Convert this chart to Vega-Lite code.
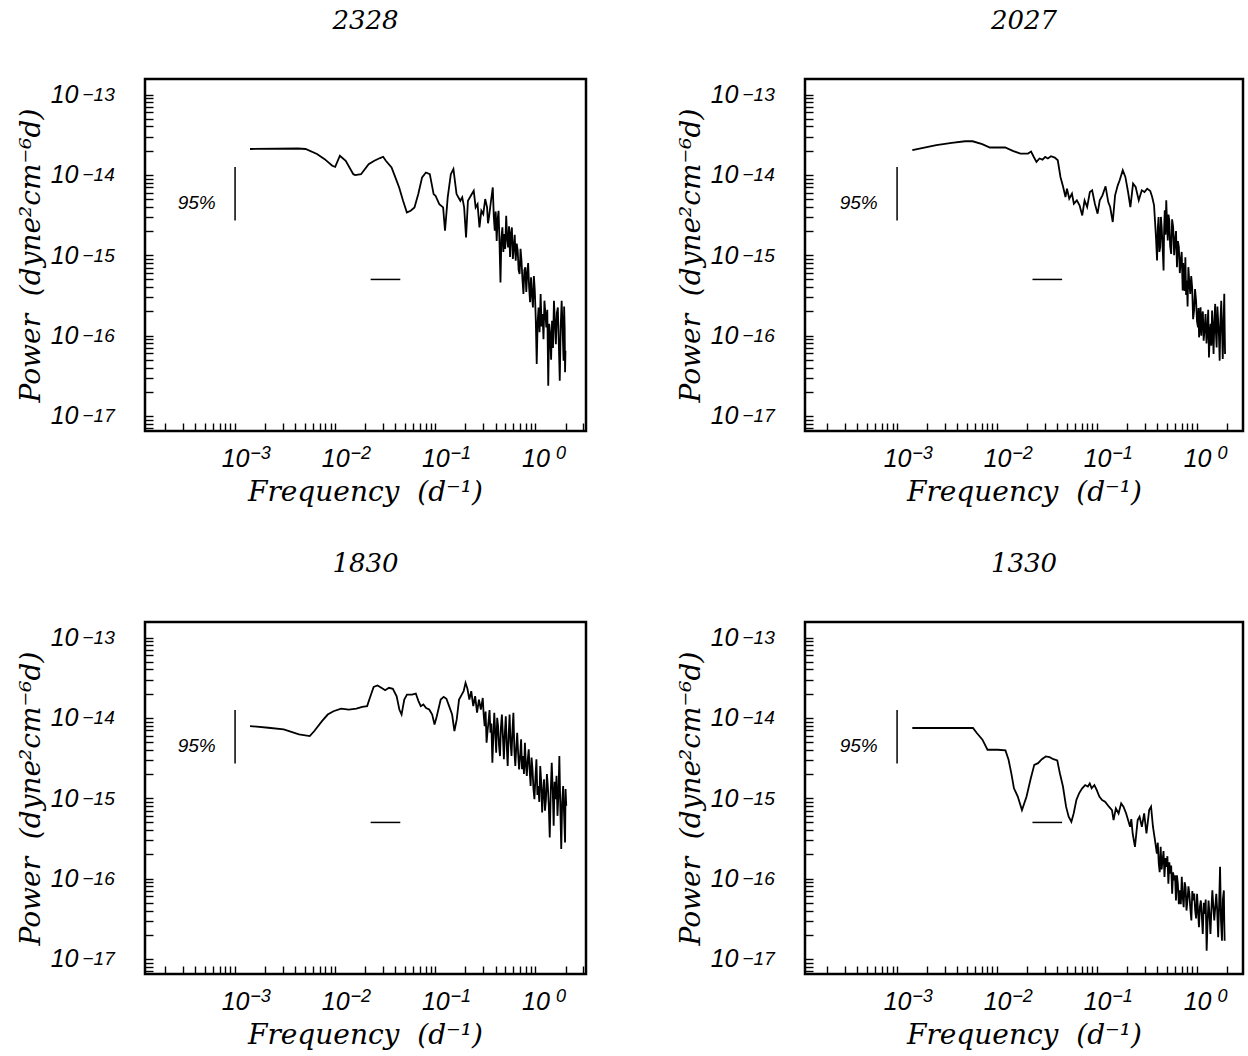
{
"$schema": "https://vega.github.io/schema/vega-lite/v6.json",
"padding": {"left": 15, "top": 6, "right": 0, "bottom": 0},
"background": "white",
"datasets": {
"ci": [{"f": 0.001, "P": 1.25e-14, "P2": 2.7e-15}],
"bw": [{"f": 0.0226, "f2": 0.0447, "P": 5e-16}],
"lbl": [{"f": 0.00064, "P": 4.5e-15, "text": "95%"}],
"s2328": [
{"f":0.00141,"P":2.10e-14},{"f":0.00424,"P":2.13e-14},{"f":0.00506,"P":2.10e-14},{"f":0.00658,"P":1.82e-14},{"f":0.00785,"P":1.57e-14},{"f":0.00935,"P":1.30e-14},{"f":0.0100,"P":1.26e-14},{"f":0.01114,"P":1.73e-14},{"f":0.01274,"P":1.50e-14},{"f":0.01517,"P":1.02e-14},{"f":0.01585,"P":9.95e-15},{"f":0.01811,"P":1.02e-14},{"f":0.02158,"P":1.36e-14},{"f":0.0246,"P":1.50e-14},{"f":0.02805,"P":1.62e-14},{"f":0.03013,"P":1.68e-14},{"f":0.03207,"P":1.50e-14},{"f":0.03656,"P":1.24e-14},{"f":0.0399,"P":9.31e-15},{"f":0.04355,"P":6.98e-15},{"f":0.04764,"P":4.76e-15},{"f":0.052,"P":3.41e-15},{"f":0.05675,"P":3.58e-15},{"f":0.06194,"P":3.94e-15},{"f":0.0676,"P":5.77e-15},{"f":0.07379,"P":9.31e-15},{"f":0.08054,"P":1.07e-14},{"f":0.0881,"P":1.02e-14},{"f":0.0962,"P":5.77e-15},{"f":0.1005,"P":5.50e-15},{"f":0.1096,"P":4.33e-15},{"f":0.1197,"P":3.94e-15},{"f":0.125,"P":2.02e-15},{"f":0.133,"P":5.25e-15},{"f":0.1429,"P":1.02e-14},{"f":0.1517,"P":1.18e-14},{"f":0.163,"P":5.77e-15},{"f":0.1778,"P":4.76e-15},{"f":0.1858,"P":5.25e-15},{"f":0.1941,"P":3.94e-15},{"f":0.2028,"P":1.67e-15},{"f":0.2118,"P":4.76e-15},{"f":0.2317,"P":5.77e-15},{"f":0.2421,"P":6.35e-15},{"f":0.2529,"P":3.94e-15},{"f":0.2642,"P":4.33e-15},{"f":0.2761,"P":2.22e-15},{"f":0.2884,"P":3.58e-15},{"f":0.3013,"P":3.25e-15},{"f":0.315,"P":5.0e-15},{"f":0.3289,"P":3.94e-15},{"f":0.336,"P":2.5e-15},{"f":0.3436,"P":2.96e-15},{"f":0.358,"P":4.5e-15},{"f":0.375,"P":6.98e-15},{"f":0.384,"P":3.0e-15},{"f":0.3926,"P":2.02e-15},{"f":0.401,"P":3.5e-15},{"f":0.4102,"P":1.51e-15},{"f":0.419,"P":2.8e-15},{"f":0.4285,"P":3.58e-15},{"f":0.438,"P":1.4e-15},{"f":0.4477,"P":4.59e-16},{"f":0.457,"P":1.6e-15},{"f":0.4677,"P":2.22e-15},{"f":0.478,"P":1.1e-15},{"f":0.4887,"P":1.83e-15},{"f":0.499,"P":1.2e-15},{"f":0.5105,"P":3.10e-15},{"f":0.522,"P":1.6e-15},{"f":0.5333,"P":1.25e-15},{"f":0.545,"P":2.3e-15},{"f":0.558,"P":9.5e-16},{"f":0.57,"P":1.9e-15},{"f":0.5821,"P":2.22e-15},{"f":0.595,"P":9.0e-16},{"f":0.6081,"P":1.25e-15},{"f":0.621,"P":1.8e-15},{"f":0.6353,"P":8.55e-16},{"f":0.65,"P":1.4e-15},{"f":0.665,"P":1.14e-15},{"f":0.68,"P":6.5e-16},{"f":0.695,"P":5.83e-16},{"f":0.71,"P":1.2e-15},{"f":0.726,"P":8.55e-16},{"f":0.742,"P":5.0e-16},{"f":0.759,"P":3.29e-16},{"f":0.776,"P":6.5e-16},{"f":0.793,"P":7.06e-16},{"f":0.81,"P":3.5e-16},{"f":0.828,"P":5.83e-16},{"f":0.846,"P":8.0e-16},{"f":0.865,"P":3.98e-16},{"f":0.884,"P":2.6e-16},{"f":0.904,"P":5.30e-16},{"f":0.924,"P":3.2e-16},{"f":0.944,"P":2.24e-16},{"f":0.965,"P":5.5e-16},{"f":0.986,"P":3.61e-16},{"f":1.008,"P":1.6e-16},{"f":1.03,"P":4.42e-17},{"f":1.053,"P":1.5e-16},{"f":1.076,"P":2.24e-16},{"f":1.1,"P":1.1e-16},{"f":1.127,"P":3.29e-16},{"f":1.152,"P":1.3e-16},{"f":1.178,"P":1.85e-16},{"f":1.204,"P":9.0e-17},{"f":1.23,"P":2.72e-16},{"f":1.257,"P":1.9e-16},{"f":1.285,"P":1.26e-16},{"f":1.314,"P":2.1e-16},{"f":1.343,"P":2.37e-17},{"f":1.373,"P":1.4e-16},{"f":1.403,"P":1.04e-16},{"f":1.434,"P":5.0e-17},{"f":1.466,"P":1.53e-16},{"f":1.498,"P":7.0e-17},{"f":1.531,"P":2.72e-16},{"f":1.565,"P":1.5e-16},{"f":1.6,"P":7.84e-17},{"f":1.637,"P":1.9e-16},{"f":1.674,"P":2.24e-16},{"f":1.712,"P":8.0e-17},{"f":1.75,"P":2.74e-17},{"f":1.789,"P":1.3e-16},{"f":1.828,"P":2.72e-16},{"f":1.869,"P":1.2e-16},{"f":1.91,"P":4.86e-17},{"f":1.935,"P":2.3e-16},{"f":1.959,"P":1.26e-16},{"f":1.977,"P":3.5e-17},{"f":1.995,"P":6.48e-17}
],
"s2027": [
{"f":0.00142,"P":2.03e-14},{"f":0.00247,"P":2.34e-14},{"f":0.00352,"P":2.50e-14},{"f":0.00479,"P":2.62e-14},{"f":0.0057,"P":2.62e-14},{"f":0.0071,"P":2.41e-14},{"f":0.00847,"P":2.19e-14},{"f":0.01009,"P":2.19e-14},{"f":0.01205,"P":2.19e-14},{"f":0.01436,"P":1.99e-14},{"f":0.0171,"P":1.84e-14},{"f":0.0204,"P":1.84e-14},{"f":0.02188,"P":1.95e-14},{"f":0.0233,"P":1.67e-14},{"f":0.02477,"P":1.45e-14},{"f":0.02655,"P":1.60e-14},{"f":0.0285,"P":1.55e-14},{"f":0.03027,"P":1.67e-14},{"f":0.0322,"P":1.60e-14},{"f":0.0346,"P":1.71e-14},{"f":0.03776,"P":1.64e-14},{"f":0.04046,"P":1.52e-14},{"f":0.04305,"P":9.42e-15},{"f":0.0458,"P":7.07e-15},{"f":0.0483,"P":5.31e-15},{"f":0.05,"P":6.74e-15},{"f":0.05272,"P":5.06e-15},{"f":0.0561,"P":5.84e-15},{"f":0.0586,"P":4.38e-15},{"f":0.0628,"P":4.82e-15},{"f":0.0668,"P":4.18e-15},{"f":0.0711,"P":3.13e-15},{"f":0.075,"P":4.82e-15},{"f":0.0796,"P":3.98e-15},{"f":0.0847,"P":6.12e-15},{"f":0.0893,"P":6.42e-15},{"f":0.0951,"P":4.38e-15},{"f":0.1012,"P":3.29e-15},{"f":0.1064,"P":4.82e-15},{"f":0.1132,"P":5.57e-15},{"f":0.1216,"P":7.21e-15},{"f":0.1294,"P":4.59e-15},{"f":0.1352,"P":3.98e-15},{"f":0.1435,"P":2.59e-15},{"f":0.1514,"P":5.57e-15},{"f":0.161,"P":7.41e-15},{"f":0.1683,"P":8.57e-15},{"f":0.1807,"P":1.14e-14},{"f":0.1919,"P":9.42e-15},{"f":0.2042,"P":6.12e-15},{"f":0.2153,"P":3.98e-15},{"f":0.2291,"P":7.78e-15},{"f":0.2432,"P":7.07e-15},{"f":0.2612,"P":4.82e-15},{"f":0.2799,"P":6.42e-15},{"f":0.2979,"P":6.12e-15},{"f":0.317,"P":6.74e-15},{"f":0.3404,"P":6.30e-15},{"f":0.3557,"P":5.31e-15},{"f":0.3715,"P":4.18e-15},{"f":0.3882,"P":1.68e-15},{"f":0.3981,"P":8.61e-16},{"f":0.405,"P":2.2e-15},{"f":0.4121,"P":2.99e-15},{"f":0.42,"P":1.1e-15},{"f":0.4276,"P":1.26e-15},{"f":0.435,"P":3.0e-15},{"f":0.4426,"P":2.24e-15},{"f":0.452,"P":1.3e-15},{"f":0.4624,"P":6.46e-16},{"f":0.468,"P":2.0e-15},{"f":0.4753,"P":3.62e-15},{"f":0.483,"P":1.8e-15},{"f":0.492,"P":4.82e-15},{"f":0.5,"P":2.6e-15},{"f":0.5093,"P":1.53e-15},{"f":0.518,"P":3.2e-15},{"f":0.5272,"P":2.72e-15},{"f":0.538,"P":1.3e-15},{"f":0.5508,"P":1.04e-15},{"f":0.563,"P":2.8e-15},{"f":0.5768,"P":2.24e-15},{"f":0.59,"P":1.0e-15},{"f":0.6026,"P":1.53e-15},{"f":0.616,"P":2.0e-15},{"f":0.6295,"P":7.11e-16},{"f":0.643,"P":1.5e-15},{"f":0.6577,"P":1.26e-15},{"f":0.672,"P":6.0e-16},{"f":0.6871,"P":8.61e-16},{"f":0.702,"P":1.1e-15},{"f":0.7178,"P":3.64e-16},{"f":0.727,"P":8.0e-16},{"f":0.7362,"P":5.87e-16},{"f":0.75,"P":3.6e-16},{"f":0.7638,"P":9.46e-16},{"f":0.777,"P":3.2e-16},{"f":0.7907,"P":4.85e-16},{"f":0.804,"P":2.3e-16},{"f":0.8185,"P":7.11e-16},{"f":0.837,"P":4.5e-16},{"f":0.8551,"P":3.31e-16},{"f":0.874,"P":5.5e-16},{"f":0.8933,"P":4.00e-16},{"f":0.913,"P":1.6e-16},{"f":0.9333,"P":2.05e-16},{"f":0.955,"P":3.8e-16},{"f":0.9772,"P":2.72e-16},{"f":0.999,"P":1.5e-16},{"f":1.021,"P":1.27e-16},{"f":1.034,"P":2.2e-16},{"f":1.047,"P":9.51e-17},{"f":1.065,"P":1.3e-16},{"f":1.084,"P":2.25e-16},{"f":1.103,"P":1.0e-16},{"f":1.122,"P":1.69e-16},{"f":1.143,"P":2.0e-16},{"f":1.164,"P":8.65e-17},{"f":1.19,"P":1.2e-16},{"f":1.216,"P":1.86e-16},{"f":1.243,"P":8.0e-17},{"f":1.271,"P":1.27e-16},{"f":1.293,"P":2.1e-16},{"f":1.315,"P":5.36e-17},{"f":1.34,"P":1.0e-16},{"f":1.365,"P":1.40e-16},{"f":1.389,"P":7.5e-17},{"f":1.413,"P":2.05e-16},{"f":1.437,"P":1.2e-16},{"f":1.462,"P":5.89e-17},{"f":1.49,"P":1.5e-16},{"f":1.517,"P":2.48e-16},{"f":1.543,"P":1.1e-16},{"f":1.57,"P":7.13e-17},{"f":1.598,"P":2.3e-16},{"f":1.626,"P":1.53e-16},{"f":1.655,"P":1.0e-16},{"f":1.683,"P":4.88e-17},{"f":1.715,"P":1.6e-16},{"f":1.746,"P":2.72e-16},{"f":1.777,"P":1.2e-16},{"f":1.807,"P":5.12e-17},{"f":1.84,"P":1.4e-16},{"f":1.871,"P":3.31e-16},{"f":1.888,"P":1.3e-16},{"f":1.905,"P":5.89e-17}
],
"s1830": [
{"f":0.00141,"P":7.91e-15},{"f":0.00215,"P":7.54e-15},{"f":0.00306,"P":7.18e-15},{"f":0.00435,"P":6.22e-15},{"f":0.00557,"P":5.94e-15},{"f":0.00619,"P":6.86e-15},{"f":0.00738,"P":9.12e-15},{"f":0.00842,"P":1.10e-14},{"f":0.00961,"P":1.21e-14},{"f":0.01146,"P":1.30e-14},{"f":0.01368,"P":1.27e-14},{"f":0.0163,"P":1.30e-14},{"f":0.01862,"P":1.37e-14},{"f":0.02085,"P":1.40e-14},{"f":0.02218,"P":1.77e-14},{"f":0.02421,"P":2.43e-14},{"f":0.02648,"P":2.53e-14},{"f":0.02891,"P":2.37e-14},{"f":0.03155,"P":2.21e-14},{"f":0.03445,"P":2.37e-14},{"f":0.03767,"P":2.30e-14},{"f":0.04111,"P":1.86e-14},{"f":0.04375,"P":1.27e-14},{"f":0.04603,"P":1.10e-14},{"f":0.04898,"P":1.69e-14},{"f":0.05212,"P":1.95e-14},{"f":0.05848,"P":1.95e-14},{"f":0.06383,"P":2.01e-14},{"f":0.06792,"P":1.62e-14},{"f":0.07161,"P":1.40e-14},{"f":0.07603,"P":1.47e-14},{"f":0.0809,"P":1.33e-14},{"f":0.0869,"P":1.27e-14},{"f":0.0931,"P":1.10e-14},{"f":0.0982,"P":8.28e-15},{"f":0.1035,"P":1.05e-14},{"f":0.1132,"P":1.69e-14},{"f":0.1213,"P":1.83e-14},{"f":0.1291,"P":1.73e-14},{"f":0.1374,"P":1.40e-14},{"f":0.1472,"P":1.10e-14},{"f":0.1552,"P":6.86e-15},{"f":0.1637,"P":9.57e-15},{"f":0.1726,"P":1.69e-14},{"f":0.1837,"P":1.95e-14},{"f":0.1919,"P":2.15e-14},{"f":0.2004,"P":2.73e-14},{"f":0.2094,"P":2.30e-14},{"f":0.2188,"P":1.69e-14},{"f":0.2286,"P":2.15e-14},{"f":0.2393,"P":1.40e-14},{"f":0.25,"P":1.86e-14},{"f":0.2612,"P":1.16e-14},{"f":0.2729,"P":1.69e-14},{"f":0.2851,"P":1.27e-14},{"f":0.2979,"P":1.77e-14},{"f":0.304,"P":1.1e-14},{"f":0.3112,"P":7.91e-15},{"f":0.318,"P":1.2e-14},{"f":0.3251,"P":4.91e-15},{"f":0.333,"P":7.0e-15},{"f":0.3404,"P":9.12e-15},{"f":0.348,"P":1.25e-14},{"f":0.3556,"P":6.53e-15},{"f":0.363,"P":8.5e-15},{"f":0.3715,"P":2.77e-15},{"f":0.38,"P":6.0e-15},{"f":0.3882,"P":1.16e-14},{"f":0.397,"P":6.5e-15},{"f":0.4055,"P":3.69e-15},{"f":0.415,"P":1.0e-14},{"f":0.4236,"P":7.91e-15},{"f":0.433,"P":4.5e-15},{"f":0.4426,"P":3.35e-15},{"f":0.452,"P":7.5e-15},{"f":0.4624,"P":1.10e-14},{"f":0.473,"P":6.0e-15},{"f":0.4842,"P":3.05e-15},{"f":0.495,"P":6.5e-15},{"f":0.5058,"P":1.05e-14},{"f":0.517,"P":4.5e-15},{"f":0.5284,"P":2.52e-15},{"f":0.54,"P":6.0e-15},{"f":0.5521,"P":1.10e-14},{"f":0.564,"P":5.0e-15},{"f":0.5768,"P":3.35e-15},{"f":0.59,"P":7.0e-15},{"f":0.6026,"P":1.16e-14},{"f":0.616,"P":4.0e-15},{"f":0.6295,"P":2.52e-15},{"f":0.643,"P":4.2e-15},{"f":0.6577,"P":6.53e-15},{"f":0.672,"P":3.6e-15},{"f":0.6871,"P":2.29e-15},{"f":0.703,"P":3.3e-15},{"f":0.7194,"P":5.40e-15},{"f":0.735,"P":2.3e-15},{"f":0.7516,"P":3.35e-15},{"f":0.768,"P":2.0e-15},{"f":0.7852,"P":4.91e-15},{"f":0.803,"P":2.6e-15},{"f":0.8204,"P":1.89e-15},{"f":0.838,"P":3.0e-15},{"f":0.857,"P":4.06e-15},{"f":0.876,"P":2.2e-15},{"f":0.8954,"P":1.42e-15},{"f":0.915,"P":3.2e-15},{"f":0.9354,"P":2.29e-15},{"f":0.956,"P":1.3e-15},{"f":0.9772,"P":9.71e-16},{"f":1.0,"P":1.8e-15},{"f":1.023,"P":3.05e-15},{"f":1.046,"P":1.1e-15},{"f":1.069,"P":1.42e-15},{"f":1.093,"P":9.0e-16},{"f":1.117,"P":2.52e-15},{"f":1.142,"P":1.6e-15},{"f":1.167,"P":6.64e-16},{"f":1.193,"P":1.2e-15},{"f":1.219,"P":1.72e-15},{"f":1.246,"P":7.0e-16},{"f":1.274,"P":9.71e-16},{"f":1.302,"P":2.0e-15},{"f":1.33,"P":1.42e-15},{"f":1.36,"P":8.0e-16},{"f":1.39,"P":3.25e-16},{"f":1.422,"P":1.2e-15},{"f":1.455,"P":2.77e-15},{"f":1.488,"P":1.3e-15},{"f":1.521,"P":4.54e-16},{"f":1.555,"P":1.6e-15},{"f":1.589,"P":9.71e-16},{"f":1.624,"P":1.9e-15},{"f":1.66,"P":6.04e-16},{"f":1.697,"P":1.1e-15},{"f":1.734,"P":3.35e-15},{"f":1.772,"P":8.0e-16},{"f":1.811,"P":2.33e-16},{"f":1.85,"P":9.0e-16},{"f":1.892,"P":1.42e-15},{"f":1.935,"P":6.0e-16},{"f":1.977,"P":2.82e-16},{"f":2.0,"P":1.3e-15},{"f":2.032,"P":8.04e-16}
],
"s1330": [
{"f":0.00142,"P":7.48e-15},{"f":0.00574,"P":7.48e-15},{"f":0.00627,"P":6.48e-15},{"f":0.00714,"P":5.35e-15},{"f":0.00802,"P":4.01e-15},{"f":0.00891,"P":4.01e-15},{"f":0.01018,"P":4.01e-15},{"f":0.01213,"P":3.94e-15},{"f":0.01303,"P":3.01e-15},{"f":0.01387,"P":2.05e-15},{"f":0.01475,"P":1.33e-15},{"f":0.01611,"P":1.05e-15},{"f":0.01774,"P":7.13e-16},{"f":0.01972,"P":1.05e-15},{"f":0.02153,"P":1.69e-15},{"f":0.02355,"P":2.60e-15},{"f":0.0257,"P":2.73e-15},{"f":0.02805,"P":3.06e-15},{"f":0.03069,"P":3.31e-15},{"f":0.0335,"P":3.24e-15},{"f":0.03656,"P":3.06e-15},{"f":0.04,"P":2.95e-15},{"f":0.04246,"P":2.05e-15},{"f":0.0456,"P":1.40e-15},{"f":0.04898,"P":7.85e-16},{"f":0.052,"P":5.89e-16},{"f":0.05534,"P":5.10e-16},{"f":0.05834,"P":6.47e-16},{"f":0.06209,"P":9.50e-16},{"f":0.06607,"P":1.15e-15},{"f":0.07096,"P":1.33e-15},{"f":0.07603,"P":1.46e-15},{"f":0.0809,"P":1.40e-15},{"f":0.08453,"P":1.53e-15},{"f":0.0883,"P":1.33e-15},{"f":0.094,"P":1.46e-15},{"f":0.0991,"P":1.27e-15},{"f":0.1054,"P":1.05e-15},{"f":0.1122,"P":9.50e-16},{"f":0.1202,"P":9.06e-16},{"f":0.1315,"P":7.85e-16},{"f":0.1409,"P":7.13e-16},{"f":0.1462,"P":5.35e-16},{"f":0.1542,"P":7.48e-16},{"f":0.1641,"P":6.47e-16},{"f":0.1742,"P":8.63e-16},{"f":0.1837,"P":7.85e-16},{"f":0.1954,"P":6.47e-16},{"f":0.2042,"P":5.35e-16},{"f":0.2138,"P":4.42e-16},{"f":0.22,"P":5.5e-16},{"f":0.227,"P":3.64e-16},{"f":0.2393,"P":2.48e-16},{"f":0.2547,"P":5.35e-16},{"f":0.2661,"P":5.89e-16},{"f":0.2805,"P":4.42e-16},{"f":0.2958,"P":6.47e-16},{"f":0.3119,"P":3.64e-16},{"f":0.3319,"P":7.13e-16},{"f":0.3467,"P":7.85e-16},{"f":0.3622,"P":4.42e-16},{"f":0.3793,"P":3.01e-16},{"f":0.3963,"P":2.05e-16},{"f":0.405,"P":2.8e-16},{"f":0.414,"P":1.53e-16},{"f":0.423,"P":1.2e-16},{"f":0.4325,"P":2.48e-16},{"f":0.442,"P":1.3e-16},{"f":0.4519,"P":1.69e-16},{"f":0.462,"P":2.2e-16},{"f":0.4721,"P":1.05e-16},{"f":0.483,"P":1.8e-16},{"f":0.4932,"P":1.40e-16},{"f":0.505,"P":1.9e-16},{"f":0.5164,"P":8.63e-17},{"f":0.528,"P":1.6e-16},{"f":0.5395,"P":1.15e-16},{"f":0.551,"P":1.45e-16},{"f":0.5636,"P":6.47e-17},{"f":0.576,"P":1.2e-16},{"f":0.5888,"P":9.50e-17},{"f":0.602,"P":1.1e-16},{"f":0.6152,"P":5.35e-17},{"f":0.629,"P":1.1e-16},{"f":0.6427,"P":8.63e-17},{"f":0.657,"P":4.8e-17},{"f":0.673,"P":7.13e-17},{"f":0.688,"P":4.8e-17},{"f":0.7031,"P":1.05e-16},{"f":0.718,"P":6.0e-17},{"f":0.7345,"P":4.42e-17},{"f":0.751,"P":9.0e-17},{"f":0.7674,"P":7.85e-17},{"f":0.784,"P":4.0e-17},{"f":0.8017,"P":5.35e-17},{"f":0.82,"P":8.0e-17},{"f":0.8375,"P":6.47e-17},{"f":0.857,"P":4.2e-17},{"f":0.877,"P":3.01e-17},{"f":0.896,"P":7.0e-17},{"f":0.9162,"P":5.35e-17},{"f":0.937,"P":6.5e-17},{"f":0.9572,"P":4.01e-17},{"f":0.978,"P":3.2e-17},{"f":1.0,"P":6.47e-17},{"f":1.022,"P":4.0e-17},{"f":1.045,"P":2.48e-17},{"f":1.068,"P":4.5e-17},{"f":1.091,"P":5.35e-17},{"f":1.115,"P":3.5e-17},{"f":1.14,"P":2.05e-17},{"f":1.167,"P":5.0e-17},{"f":1.194,"P":3.64e-17},{"f":1.22,"P":5.5e-17},{"f":1.247,"P":1.27e-17},{"f":1.275,"P":3.0e-17},{"f":1.303,"P":5.35e-17},{"f":1.332,"P":3.5e-17},{"f":1.361,"P":2.05e-17},{"f":1.39,"P":4.0e-17},{"f":1.422,"P":7.13e-17},{"f":1.454,"P":4.5e-17},{"f":1.486,"P":3.01e-17},{"f":1.52,"P":4.4e-17},{"f":1.556,"P":6.47e-17},{"f":1.59,"P":4.0e-17},{"f":1.626,"P":1.86e-17},{"f":1.66,"P":4.5e-17},{"f":1.698,"P":1.40e-16},{"f":1.735,"P":3.0e-17},{"f":1.774,"P":1.69e-17},{"f":1.81,"P":5.5e-17},{"f":1.854,"P":7.13e-17},{"f":1.87,"P":3.0e-17},{"f":1.888,"P":1.69e-17}
]
},
"columns": 2,
"spacing": {"row": 191, "column": 219},
"bounds": "flush",
"concat": [
{"width": 441, "height": 352, "title": {"text": "2328", "frame": "group", "offset": 45},
"resolve": {"axis": {"x": "independent", "y": "independent"}},
"layer": [
{"encoding": {
"x": {"field": "f", "type": "quantitative", "scale": {"type": "log", "domain": [0.000126, 3.2], "nice": false},
"axis": {"orient": "bottom", "values": [0.0002,0.0003,0.0004,0.0005,0.0006,0.0007,0.0008,0.0009,0.001,0.002,0.003,0.004,0.005,0.006,0.007,0.008,0.009,0.01,0.02,0.03,0.04,0.05,0.06,0.07,0.08,0.09,0.1,0.2,0.3,0.4,0.5,0.6,0.7,0.8,0.9,1,2,3],
"labelExpr": "datum.value == 0.001 || datum.value == 0.01 || datum.value == 0.1 || datum.value == 1 ? '10' : ''",
"labelAlign": "center", "labelBaseline": "top", "labelPadding": 23,
"title": "Frequency\u00a0\u00a0(d⁻¹)", "titleX": 220, "titleY": 69, "titleAlign": "center", "titleBaseline": "alphabetic"}},
"y": {"field": "P", "type": "quantitative", "scale": {"type": "log", "domain": [6.5e-18, 1.56e-13], "nice": false},
"axis": {"orient": "left", "values": [7e-18,8e-18,9e-18,1e-17,2e-17,3e-17,4e-17,5e-17,6e-17,7e-17,8e-17,9e-17,1e-16,2e-16,3e-16,4e-16,5e-16,6e-16,7e-16,8e-16,9e-16,1e-15,2e-15,3e-15,4e-15,5e-15,6e-15,7e-15,8e-15,9e-15,1e-14,2e-14,3e-14,4e-14,5e-14,6e-14,7e-14,8e-14,9e-14,1e-13],
"labelExpr": "datum.value == 1e-13 || datum.value == 1e-14 || datum.value == 1e-15 || datum.value == 1e-16 || datum.value == 1e-17 ? '10' : ''",
"labelAlign": "right", "labelBaseline": "middle", "labelPadding": 75, "labelDy": -1,
"title": "Power\u00a0\u00a0(dyne²cm⁻⁶d)", "titleX": -100, "titleY": 176, "titleAngle": 270, "titleAlign": "center", "titleBaseline": "bottom"}}
},
"layer": [
{"data": {"name": "s2328"}, "mark": {"type": "line", "color": "black", "strokeWidth": 1.8, "clip": true}, "encoding": {}},
{"data": {"name": "ci"}, "mark": {"type": "rule", "color": "black", "strokeWidth": 1.5}, "encoding": {"y2": {"field": "P2"}}},
{"data": {"name": "bw"}, "mark": {"type": "rule", "color": "black", "strokeWidth": 1.5}, "encoding": {"x2": {"field": "f2"}}},
{"data": {"name": "lbl"}, "mark": {"type": "text", "align": "right", "baseline": "middle", "font": "Liberation Sans", "fontStyle": "italic", "fontSize": 19, "color": "black"}, "encoding": {"text": {"field": "text"}}}
]},
{"data": {"name": "ci"}, "mark": {"type": "point", "opacity": 0},
"encoding": {
"x": {"field": "f", "type": "quantitative", "scale": {"type": "log", "domain": [0.000126, 3.2], "nice": false},
"axis": {"orient": "bottom", "values": [0.001, 0.01, 0.1, 1], "labelExpr": "datum.value == 0.001 ? '−3' : datum.value == 0.01 ? '−2' : datum.value == 0.1 ? '−1' : '0'", "labelAlign": "center", "labelOffset": 25, "labelBaseline": "top", "labelPadding": 21, "labelFontSize": 18, "tickOpacity": 0, "title": null}},
"y": {"field": "P", "type": "quantitative", "scale": {"type": "log", "domain": [6.5e-18, 1.56e-13], "nice": false},
"axis": {"orient": "left", "values": [1e-17, 1e-16, 1e-15, 1e-14, 1e-13], "labelExpr": "datum.value == 1e-13 ? '−13' : datum.value == 1e-14 ? '−14' : datum.value == 1e-15 ? '−15' : datum.value == 1e-16 ? '−16' : '−17'", "labelAlign": "left", "labelBaseline": "middle", "labelDy": -11, "labelPadding": 71, "labelFontSize": 19, "tickOpacity": 0, "title": null}}
}}
]},
{"width": 438, "height": 352, "title": {"text": "2027", "frame": "group", "offset": 45},
"resolve": {"axis": {"x": "independent", "y": "independent"}},
"layer": [
{"encoding": {
"x": {"field": "f", "type": "quantitative", "scale": {"type": "log", "domain": [0.00012, 2.88], "nice": false},
"axis": {"orient": "bottom", "values": [0.0002,0.0003,0.0004,0.0005,0.0006,0.0007,0.0008,0.0009,0.001,0.002,0.003,0.004,0.005,0.006,0.007,0.008,0.009,0.01,0.02,0.03,0.04,0.05,0.06,0.07,0.08,0.09,0.1,0.2,0.3,0.4,0.5,0.6,0.7,0.8,0.9,1,2],
"labelExpr": "datum.value == 0.001 || datum.value == 0.01 || datum.value == 0.1 || datum.value == 1 ? '10' : ''",
"labelAlign": "center", "labelBaseline": "top", "labelPadding": 23,
"title": "Frequency\u00a0\u00a0(d⁻¹)", "titleX": 219, "titleY": 69, "titleAlign": "center", "titleBaseline": "alphabetic"}},
"y": {"field": "P", "type": "quantitative", "scale": {"type": "log", "domain": [6.5e-18, 1.56e-13], "nice": false},
"axis": {"orient": "left", "values": [7e-18,8e-18,9e-18,1e-17,2e-17,3e-17,4e-17,5e-17,6e-17,7e-17,8e-17,9e-17,1e-16,2e-16,3e-16,4e-16,5e-16,6e-16,7e-16,8e-16,9e-16,1e-15,2e-15,3e-15,4e-15,5e-15,6e-15,7e-15,8e-15,9e-15,1e-14,2e-14,3e-14,4e-14,5e-14,6e-14,7e-14,8e-14,9e-14,1e-13],
"labelExpr": "datum.value == 1e-13 || datum.value == 1e-14 || datum.value == 1e-15 || datum.value == 1e-16 || datum.value == 1e-17 ? '10' : ''",
"labelAlign": "right", "labelBaseline": "middle", "labelPadding": 75, "labelDy": -1,
"title": "Power\u00a0\u00a0(dyne²cm⁻⁶d)", "titleX": -100, "titleY": 176, "titleAngle": 270, "titleAlign": "center", "titleBaseline": "bottom"}}
},
"layer": [
{"data": {"name": "s2027"}, "mark": {"type": "line", "color": "black", "strokeWidth": 1.8, "clip": true}, "encoding": {}},
{"data": {"name": "ci"}, "mark": {"type": "rule", "color": "black", "strokeWidth": 1.5}, "encoding": {"y2": {"field": "P2"}}},
{"data": {"name": "bw"}, "mark": {"type": "rule", "color": "black", "strokeWidth": 1.5}, "encoding": {"x2": {"field": "f2"}}},
{"data": {"name": "lbl"}, "mark": {"type": "text", "align": "right", "baseline": "middle", "font": "Liberation Sans", "fontStyle": "italic", "fontSize": 19, "color": "black"}, "encoding": {"text": {"field": "text"}}}
]},
{"data": {"name": "ci"}, "mark": {"type": "point", "opacity": 0},
"encoding": {
"x": {"field": "f", "type": "quantitative", "scale": {"type": "log", "domain": [0.00012, 2.88], "nice": false},
"axis": {"orient": "bottom", "values": [0.001, 0.01, 0.1, 1], "labelExpr": "datum.value == 0.001 ? '−3' : datum.value == 0.01 ? '−2' : datum.value == 0.1 ? '−1' : '0'", "labelAlign": "center", "labelOffset": 25, "labelBaseline": "top", "labelPadding": 21, "labelFontSize": 18, "tickOpacity": 0, "title": null}},
"y": {"field": "P", "type": "quantitative", "scale": {"type": "log", "domain": [6.5e-18, 1.56e-13], "nice": false},
"axis": {"orient": "left", "values": [1e-17, 1e-16, 1e-15, 1e-14, 1e-13], "labelExpr": "datum.value == 1e-13 ? '−13' : datum.value == 1e-14 ? '−14' : datum.value == 1e-15 ? '−15' : datum.value == 1e-16 ? '−16' : '−17'", "labelAlign": "left", "labelBaseline": "middle", "labelDy": -11, "labelPadding": 71, "labelFontSize": 19, "tickOpacity": 0, "title": null}}
}}
]},
{"width": 441, "height": 352, "title": {"text": "1830", "frame": "group", "offset": 45},
"resolve": {"axis": {"x": "independent", "y": "independent"}},
"layer": [
{"encoding": {
"x": {"field": "f", "type": "quantitative", "scale": {"type": "log", "domain": [0.000126, 3.2], "nice": false},
"axis": {"orient": "bottom", "values": [0.0002,0.0003,0.0004,0.0005,0.0006,0.0007,0.0008,0.0009,0.001,0.002,0.003,0.004,0.005,0.006,0.007,0.008,0.009,0.01,0.02,0.03,0.04,0.05,0.06,0.07,0.08,0.09,0.1,0.2,0.3,0.4,0.5,0.6,0.7,0.8,0.9,1,2,3],
"labelExpr": "datum.value == 0.001 || datum.value == 0.01 || datum.value == 0.1 || datum.value == 1 ? '10' : ''",
"labelAlign": "center", "labelBaseline": "top", "labelPadding": 23,
"title": "Frequency\u00a0\u00a0(d⁻¹)", "titleX": 220, "titleY": 69, "titleAlign": "center", "titleBaseline": "alphabetic"}},
"y": {"field": "P", "type": "quantitative", "scale": {"type": "log", "domain": [6.5e-18, 1.56e-13], "nice": false},
"axis": {"orient": "left", "values": [7e-18,8e-18,9e-18,1e-17,2e-17,3e-17,4e-17,5e-17,6e-17,7e-17,8e-17,9e-17,1e-16,2e-16,3e-16,4e-16,5e-16,6e-16,7e-16,8e-16,9e-16,1e-15,2e-15,3e-15,4e-15,5e-15,6e-15,7e-15,8e-15,9e-15,1e-14,2e-14,3e-14,4e-14,5e-14,6e-14,7e-14,8e-14,9e-14,1e-13],
"labelExpr": "datum.value == 1e-13 || datum.value == 1e-14 || datum.value == 1e-15 || datum.value == 1e-16 || datum.value == 1e-17 ? '10' : ''",
"labelAlign": "right", "labelBaseline": "middle", "labelPadding": 75, "labelDy": -1,
"title": "Power\u00a0\u00a0(dyne²cm⁻⁶d)", "titleX": -100, "titleY": 176, "titleAngle": 270, "titleAlign": "center", "titleBaseline": "bottom"}}
},
"layer": [
{"data": {"name": "s1830"}, "mark": {"type": "line", "color": "black", "strokeWidth": 1.8, "clip": true}, "encoding": {}},
{"data": {"name": "ci"}, "mark": {"type": "rule", "color": "black", "strokeWidth": 1.5}, "encoding": {"y2": {"field": "P2"}}},
{"data": {"name": "bw"}, "mark": {"type": "rule", "color": "black", "strokeWidth": 1.5}, "encoding": {"x2": {"field": "f2"}}},
{"data": {"name": "lbl"}, "mark": {"type": "text", "align": "right", "baseline": "middle", "font": "Liberation Sans", "fontStyle": "italic", "fontSize": 19, "color": "black"}, "encoding": {"text": {"field": "text"}}}
]},
{"data": {"name": "ci"}, "mark": {"type": "point", "opacity": 0},
"encoding": {
"x": {"field": "f", "type": "quantitative", "scale": {"type": "log", "domain": [0.000126, 3.2], "nice": false},
"axis": {"orient": "bottom", "values": [0.001, 0.01, 0.1, 1], "labelExpr": "datum.value == 0.001 ? '−3' : datum.value == 0.01 ? '−2' : datum.value == 0.1 ? '−1' : '0'", "labelAlign": "center", "labelOffset": 25, "labelBaseline": "top", "labelPadding": 21, "labelFontSize": 18, "tickOpacity": 0, "title": null}},
"y": {"field": "P", "type": "quantitative", "scale": {"type": "log", "domain": [6.5e-18, 1.56e-13], "nice": false},
"axis": {"orient": "left", "values": [1e-17, 1e-16, 1e-15, 1e-14, 1e-13], "labelExpr": "datum.value == 1e-13 ? '−13' : datum.value == 1e-14 ? '−14' : datum.value == 1e-15 ? '−15' : datum.value == 1e-16 ? '−16' : '−17'", "labelAlign": "left", "labelBaseline": "middle", "labelDy": -11, "labelPadding": 71, "labelFontSize": 19, "tickOpacity": 0, "title": null}}
}}
]},
{"width": 438, "height": 352, "title": {"text": "1330", "frame": "group", "offset": 45},
"resolve": {"axis": {"x": "independent", "y": "independent"}},
"layer": [
{"encoding": {
"x": {"field": "f", "type": "quantitative", "scale": {"type": "log", "domain": [0.00012, 2.88], "nice": false},
"axis": {"orient": "bottom", "values": [0.0002,0.0003,0.0004,0.0005,0.0006,0.0007,0.0008,0.0009,0.001,0.002,0.003,0.004,0.005,0.006,0.007,0.008,0.009,0.01,0.02,0.03,0.04,0.05,0.06,0.07,0.08,0.09,0.1,0.2,0.3,0.4,0.5,0.6,0.7,0.8,0.9,1,2],
"labelExpr": "datum.value == 0.001 || datum.value == 0.01 || datum.value == 0.1 || datum.value == 1 ? '10' : ''",
"labelAlign": "center", "labelBaseline": "top", "labelPadding": 23,
"title": "Frequency\u00a0\u00a0(d⁻¹)", "titleX": 219, "titleY": 69, "titleAlign": "center", "titleBaseline": "alphabetic"}},
"y": {"field": "P", "type": "quantitative", "scale": {"type": "log", "domain": [6.5e-18, 1.56e-13], "nice": false},
"axis": {"orient": "left", "values": [7e-18,8e-18,9e-18,1e-17,2e-17,3e-17,4e-17,5e-17,6e-17,7e-17,8e-17,9e-17,1e-16,2e-16,3e-16,4e-16,5e-16,6e-16,7e-16,8e-16,9e-16,1e-15,2e-15,3e-15,4e-15,5e-15,6e-15,7e-15,8e-15,9e-15,1e-14,2e-14,3e-14,4e-14,5e-14,6e-14,7e-14,8e-14,9e-14,1e-13],
"labelExpr": "datum.value == 1e-13 || datum.value == 1e-14 || datum.value == 1e-15 || datum.value == 1e-16 || datum.value == 1e-17 ? '10' : ''",
"labelAlign": "right", "labelBaseline": "middle", "labelPadding": 75, "labelDy": -1,
"title": "Power\u00a0\u00a0(dyne²cm⁻⁶d)", "titleX": -100, "titleY": 176, "titleAngle": 270, "titleAlign": "center", "titleBaseline": "bottom"}}
},
"layer": [
{"data": {"name": "s1330"}, "mark": {"type": "line", "color": "black", "strokeWidth": 1.8, "clip": true}, "encoding": {}},
{"data": {"name": "ci"}, "mark": {"type": "rule", "color": "black", "strokeWidth": 1.5}, "encoding": {"y2": {"field": "P2"}}},
{"data": {"name": "bw"}, "mark": {"type": "rule", "color": "black", "strokeWidth": 1.5}, "encoding": {"x2": {"field": "f2"}}},
{"data": {"name": "lbl"}, "mark": {"type": "text", "align": "right", "baseline": "middle", "font": "Liberation Sans", "fontStyle": "italic", "fontSize": 19, "color": "black"}, "encoding": {"text": {"field": "text"}}}
]},
{"data": {"name": "ci"}, "mark": {"type": "point", "opacity": 0},
"encoding": {
"x": {"field": "f", "type": "quantitative", "scale": {"type": "log", "domain": [0.00012, 2.88], "nice": false},
"axis": {"orient": "bottom", "values": [0.001, 0.01, 0.1, 1], "labelExpr": "datum.value == 0.001 ? '−3' : datum.value == 0.01 ? '−2' : datum.value == 0.1 ? '−1' : '0'", "labelAlign": "center", "labelOffset": 25, "labelBaseline": "top", "labelPadding": 21, "labelFontSize": 18, "tickOpacity": 0, "title": null}},
"y": {"field": "P", "type": "quantitative", "scale": {"type": "log", "domain": [6.5e-18, 1.56e-13], "nice": false},
"axis": {"orient": "left", "values": [1e-17, 1e-16, 1e-15, 1e-14, 1e-13], "labelExpr": "datum.value == 1e-13 ? '−13' : datum.value == 1e-14 ? '−14' : datum.value == 1e-15 ? '−15' : datum.value == 1e-16 ? '−16' : '−17'", "labelAlign": "left", "labelBaseline": "middle", "labelDy": -11, "labelPadding": 71, "labelFontSize": 19, "tickOpacity": 0, "title": null}}
}}
]}
],
"config": {
"view": {"stroke": "black", "strokeWidth": 2.5},
"axis": {"grid": false, "domain": false, "tickColor": "black", "tickWidth": 1.4, "tickSize": -8, "labelColor": "black", "titleColor": "black", "labelFont": "Liberation Sans", "labelFontStyle": "italic", "labelFontSize": 25, "titleFont": "DejaVu Serif", "titleFontStyle": "italic", "titleFontWeight": "normal", "titleFontSize": 28, "labelOverlap": false, "labelBound": false, "labelFlush": false},
"title": {"font": "DejaVu Serif", "fontStyle": "italic", "fontWeight": "normal", "fontSize": 26, "color": "black"}
}
}
